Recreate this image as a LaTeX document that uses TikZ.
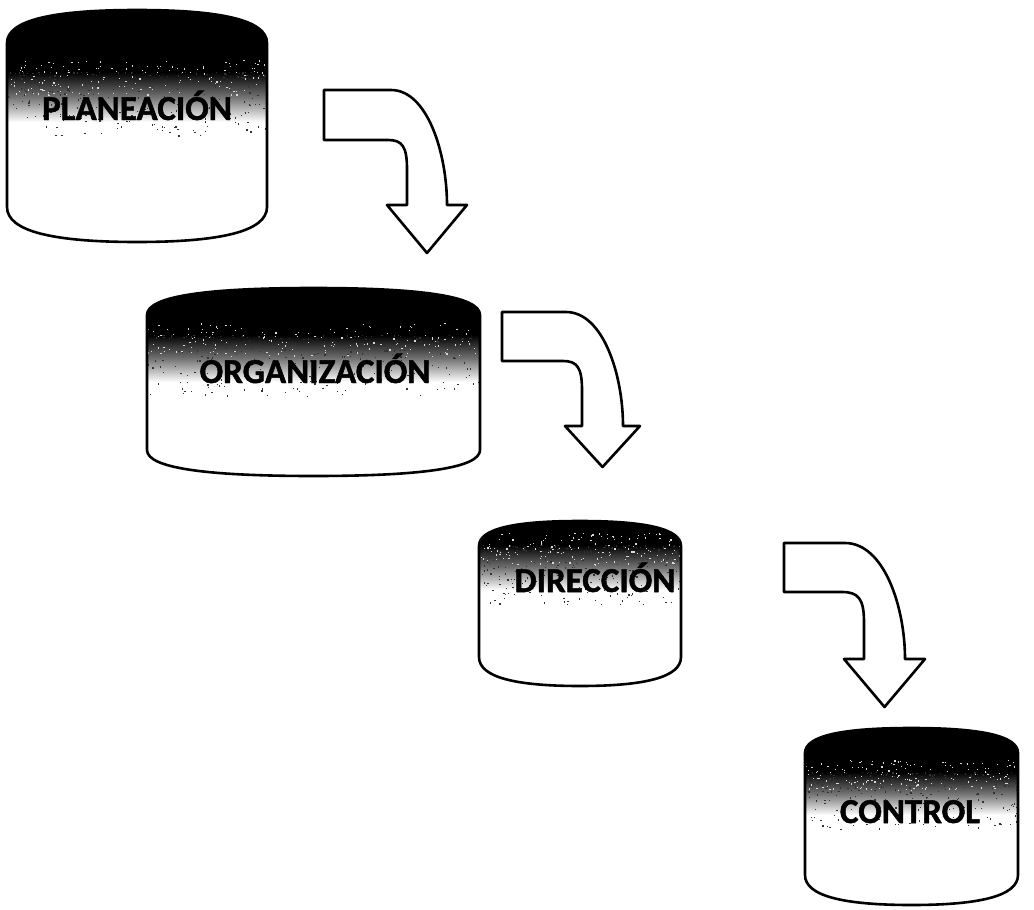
\documentclass[tikz,border=0pt]{standalone}
\usepackage{fontspec}
\setmainfont{Carlito}[BoldFeatures={FakeBold=1.4}]

% Outline of a drum (cylinder seen from the side):
% #1 path command, #2 left x, #3 right x, #4 top of lid, #5 where the sides start,
% #6 where the sides end, #7 lowest point of the base
\newcommand{\drumoutline}[7]{%
  \pgfmathsetmacro\dcx{(#2+#3)/2}%
  \pgfmathsetmacro\dla{#2+0.18*(#3-#2)}%
  \pgfmathsetmacro\dra{#3-0.18*(#3-#2)}%
  \pgfmathsetmacro\dtc{#5-0.7*(#5-#4)}%
  \pgfmathsetmacro\dbc{#6+0.7*(#7-#6)}%
  #1 (#2,#5) .. controls (#2,\dtc) and (\dla,#4) .. (\dcx,#4)
     .. controls (\dra,#4) and (#3,\dtc) .. (#3,#5)
     -- (#3,#6) .. controls (#3,\dbc) and (\dra,#7) .. (\dcx,#7)
     .. controls (\dla,#7) and (#2,\dbc) .. (#2,#6) -- cycle;}

% Drum with a dark lid fading to white: #1..#6 as for the outline,
% #7 end of the black part, #8 end of the fade
\newcommand{\drum}[8]{%
  \pgfmathsetmacro\dxa{#1-5}%
  \pgfmathsetmacro\dxb{#2+5}%
  \pgfmathsetmacro\dya{#3-5}%
  \begin{scope}
    \drumoutline{\clip}{#1}{#2}{#3}{#4}{#5}{#6}
    \fill[black] (\dxa,\dya) rectangle (\dxb,#7);
    \shade[top color=black, bottom color=white, middle color=black!55]
      (\dxa,#7) rectangle (\dxb,#8);
    % grain of the fade
    \foreach \k in {1,...,260} {
      \pgfmathsetmacro\gx{#1+rnd*(#2-#1)}%
      \pgfmathsetmacro\gy{#7+(#8-#7+14)*rnd^1.6}%
      \fill[grainblack] (\gx,\gy) rectangle ++(1.3,1.3);
    }
    \foreach \k in {1,...,160} {
      \pgfmathsetmacro\gx{#1+rnd*(#2-#1)}%
      \pgfmathsetmacro\gy{#7-12+(#8-#7)*0.7*rnd}%
      \fill[grainwhite] (\gx,\gy) rectangle ++(1.2,1.2);
    }
  \end{scope}
  \drumoutline{\draw[rim]}{#1}{#2}{#3}{#4}{#5}{#6}}

% Bent block arrow: #1 tail left x, #2 tail top, #3 tail bottom, #4 where the bend starts,
% #5 inner x of the shaft, #6 outer x of the shaft, #7 base of the head,
% #8 overhang of the head, #9 tip y
\newcommand{\bentarrow}[9]{%
  \pgfmathsetmacro\aoc{#4+0.65*(#6-#4)}%
  \pgfmathsetmacro\aoy{#2+0.55*(#7-#2)}%
  \pgfmathsetmacro\awr{#6+#8}%
  \pgfmathsetmacro\awl{#5-#8}%
  \pgfmathsetmacro\atx{(#5+#6)/2}%
  \pgfmathsetmacro\aie{#3+0.45*(#7-#3)}%
  \pgfmathsetmacro\aiy{#3+0.1*(#7-#3)}%
  \pgfmathsetmacro\aic{#5-0.3*(#5-#4)}%
  \pgfmathsetmacro\ais{#4-3}%
  \draw[arrowshape] (#1,#2) -- (#4,#2)
    .. controls (\aoc,#2) and (#6,\aoy) .. (#6,#7)
    -- (\awr,#7) -- (\atx,#9) -- (\awl,#7) -- (#5,#7)
    -- (#5,\aie) .. controls (#5,\aiy) and (\aic,#3) .. (\ais,#3)
    -- (#1,#3) -- cycle;}

\begin{document}
\begin{tikzpicture}[x=1pt, y=-1pt, line join=round]
  \tikzset{rim/.style={line width=2.6pt, black},
    arrowshape/.style={line width=2.6pt, black, fill=white},
    grainblack/.style={black!80},
    grainwhite/.style={white!85!black},
    drumlabel/.style={font=\fontsize{35}{40}\selectfont\bfseries, text=black,
      inner sep=0pt, anchor=base}}
  \pgfmathsetseed{4242}
  \useasboundingbox (0,0) rectangle (1034,910);

  % drums
  \drum{7}{267}{10}{43}{207}{242}{72}{122}
  \node[drumlabel] (plan) at (137,120) {PLANEACIÓN};

  \drum{147}{480}{288}{315}{450}{476}{335}{382}
  \node[drumlabel] (org) at (315,383) {ORGANIZACIÓN};

  \drum{479}{681}{521}{546}{657}{686}{545}{590}
  \node[drumlabel] (dir) at (595,592) {DIRECCIÓN};

  \drum{805}{1018}{728}{753}{875}{905}{772}{815}
  \node[drumlabel] (ctl) at (910,823) {CONTROL};

  % bent arrows between the stages
  \bentarrow{324}{90}{140}{391}{407}{447}{205}{20}{253}
  \bentarrow{502}{312}{361}{566}{582}{623}{426}{17}{467}
  \bentarrow{784}{543}{592}{845}{864}{905}{659}{20}{707}
\end{tikzpicture}
\end{document}
